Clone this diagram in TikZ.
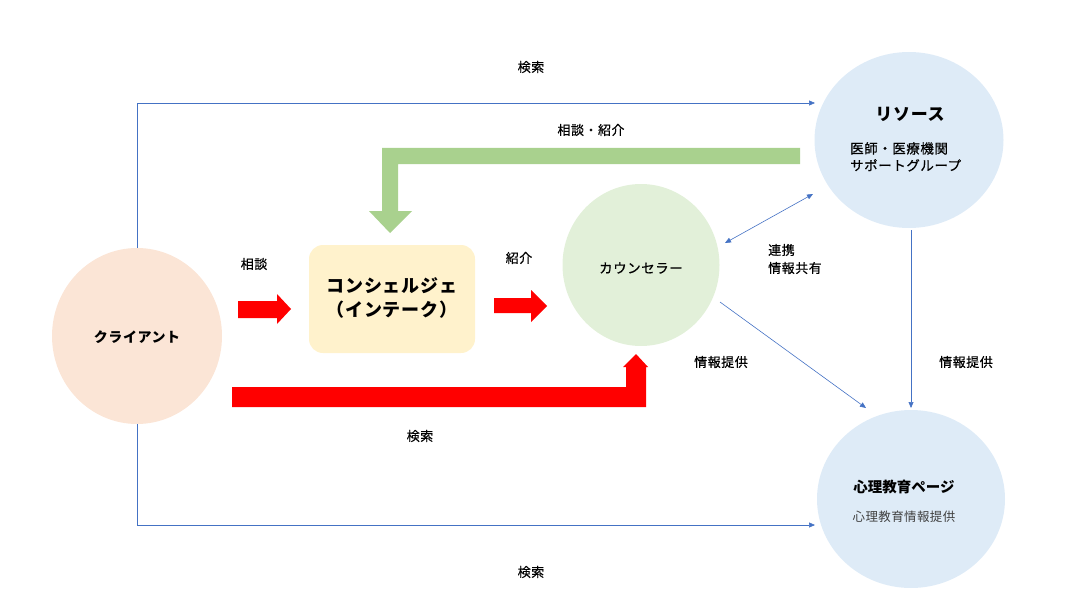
\documentclass[tikz,border=0pt]{standalone}
\usepackage{fontspec}
\setmainfont{Noto Sans CJK JP}
\newfontfamily\jpmed{Noto Sans CJK JP}[FakeBold=0.5, LetterSpace=4]
\newfontfamily\jpreg{Noto Sans CJK JP}[LetterSpace=3]
\newfontfamily\jpbold{Noto Sans CJK JP}[FakeBold=1.2, LetterSpace=6]
\usetikzlibrary{shapes.geometric,arrows.meta}
\definecolor{cfill}{HTML}{FBE5D6}
\definecolor{kfill}{HTML}{FFF2CC}
\definecolor{gfill}{HTML}{E2F0D9}
\definecolor{bfill}{HTML}{DEEBF7}
\definecolor{lgreen}{HTML}{A9D18E}
\definecolor{lineblue}{HTML}{4472C4}
\definecolor{subgray}{HTML}{404040}
\tikzset{
  blob/.style={ellipse, draw=none, inner sep=0pt},
  lbl/.style={font=\jpmed\fontsize{13}{14}\selectfont, inner sep=0pt, text=black},
  conn/.style={draw=lineblue, line width=0.6pt, -{Triangle[length=6pt,width=5pt]}},
}
\begin{document}
\begin{tikzpicture}[x=1pt,y=-1pt]
\useasboundingbox (0,0) rectangle (1068,607);
% circles and box
\node[blob, fill=cfill, minimum width=170pt, minimum height=176pt] (client) at (137,336) {};
\node[blob, fill=gfill, minimum width=157pt, minimum height=162pt] (counselor) at (641,265) {};
\node[blob, fill=bfill, minimum width=189pt, minimum height=176pt] (resource) at (909,140) {};
\node[blob, fill=bfill, minimum width=188pt, minimum height=178pt] (page) at (911,499) {};
\node[rectangle, rounded corners=14pt, fill=kfill, minimum width=166pt, minimum height=108pt, inner sep=0pt] (concierge) at (392,299) {};

% texts inside shapes
\node[inner sep=0pt, font=\bfseries\fontsize{14}{16}\selectfont\addfontfeatures{LetterSpace=4}] (clientT) at (137,337) {クライアント};
\node[inner sep=0pt, font=\jpmed\fontsize{13.5}{16}\selectfont] (counselorT) at (641,268) {カウンセラー};
\node[inner sep=0pt, font=\bfseries\fontsize{17}{19}\selectfont\addfontfeatures{LetterSpace=4}] (resourceT) at (910,114) {リソース};
\node[inner sep=0pt, align=left, font=\jpmed\fontsize{13.5}{17}\selectfont, anchor=north west] (resourceS) at (850,142) {医師・医療機関\\サポートグループ};
\node[inner sep=0pt, font=\bfseries\fontsize{14.5}{17}\selectfont] (pageT) at (904,487) {心理教育ページ};
\node[inner sep=0pt, font=\jpreg\fontsize{12.5}{15}\selectfont, text=subgray] (pageS) at (904,517) {心理教育情報提供};
\node[inner sep=0pt, align=center, font=\bfseries\fontsize{18}{24}\selectfont\addfontfeatures{LetterSpace=5}] (conciergeT) at (392,298) {コンシェルジェ\\（インテーク）};

% big block arrows
\fill[red] (238,301) -- (277,301) -- (277,294) -- (291,309) -- (277,324) -- (277,318) -- (238,318) -- cycle;
\fill[red] (494,298) -- (531,298) -- (531,290) -- (547,306) -- (531,322) -- (531,313) -- (494,313) -- cycle;
\fill[red] (232,387) -- (626,387) -- (626,367) -- (623,367) -- (636,354) -- (648,367) -- (646,367) -- (646,407) -- (232,407) -- cycle;
\fill[lgreen] (800,148) -- (382,148) -- (382,211) -- (369,211) -- (390,233) -- (412,211) -- (398,211) -- (398,164) -- (800,164) -- cycle;

% thin connectors
\coordinate (rin) at (815,103);
\coordinate (pin) at (815,525);
\draw[conn] (client.north) |- (rin);
\draw[conn] (client.south) |- (pin);
\coordinate (cA) at (725,243);
\coordinate (rA) at (813,194);
\draw[conn, {Triangle[length=6pt,width=5pt]}-{Triangle[length=6pt,width=5pt]}] (cA) -- (rA);
\coordinate (cB) at (720,302);
\coordinate (pB) at (866,408);
\draw[conn] (cB) -- (pB);
\coordinate (rC) at (911,230);
\coordinate (pC) at (911,408);
\draw[conn] (rC) -- (pC);

% labels
\node[lbl] (l1) at (531,67) {検索};
\node[lbl] (l2) at (591,130) {相談・紹介};
\node[lbl] (l3) at (254,264) {相談};
\node[lbl] (l4) at (519,258) {紹介};
\node[lbl, align=left, anchor=west, font=\jpmed\fontsize{13}{18}\selectfont] (l5) at (768,259) {連携\\情報共有};
\node[lbl] (l6) at (721,362) {情報提供};
\node[lbl] (l7) at (966,362) {情報提供};
\node[lbl] (l8) at (420,436) {検索};
\node[lbl] (l9) at (531,572) {検索};
\end{tikzpicture}
\end{document}
